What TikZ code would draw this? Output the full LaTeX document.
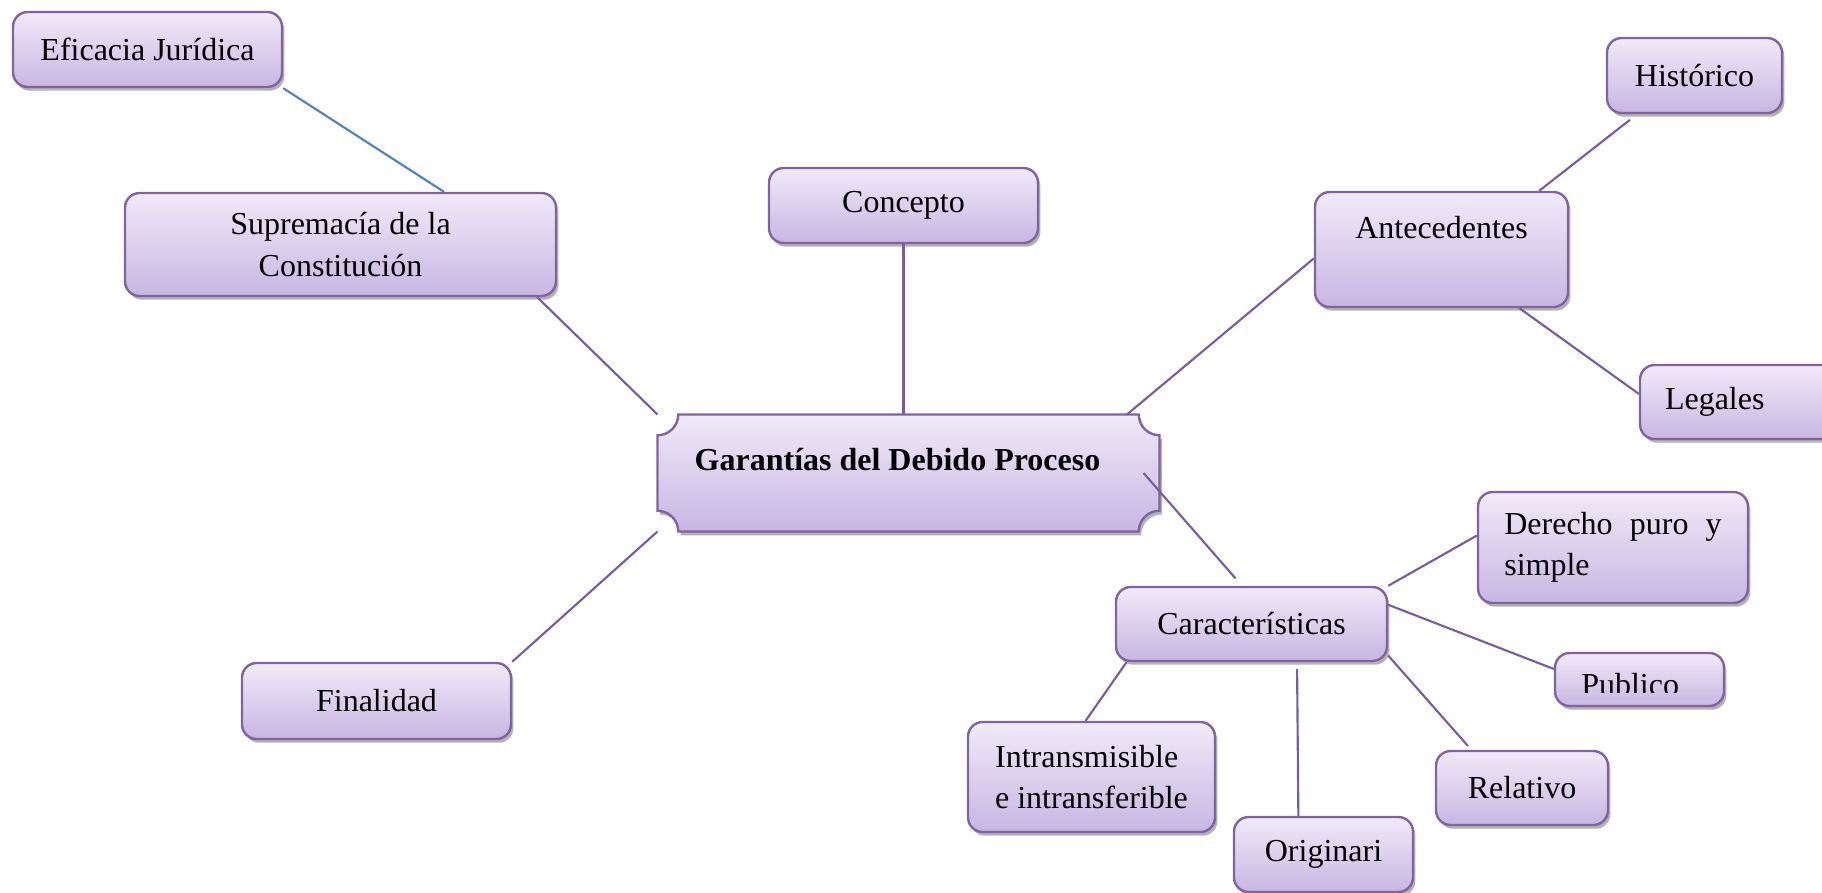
\documentclass[tikz,border=0pt]{standalone}
\usepackage{fontspec}
\setmainfont{Liberation Serif}
\usetikzlibrary{shadows,backgrounds}

\definecolor{boxtop}{RGB}{240,234,248}
\definecolor{boxbot}{RGB}{200,182,226}
\definecolor{boxline}{RGB}{128,100,162}
\definecolor{linkpurple}{RGB}{120,92,160}
\definecolor{linkblue}{RGB}{79,129,189}

\begin{document}
\begin{tikzpicture}[x=0.375pt,y=0.375pt,
  boxsize/.style 2 args={minimum width=#1*0.375pt,minimum height=#2*0.375pt},
  boxfill/.style={top color=boxtop,bottom color=boxbot,draw=boxline,line width=0.9pt,
    drop shadow={shadow xshift=0.9pt,shadow yshift=-1.4pt,fill=black!55,opacity=0.55}},
  box/.style={boxfill,rounded corners=5.5pt,inner sep=0pt,font=\fontsize{12}{15.5}\selectfont},
  link/.style={draw=linkpurple,line width=0.8pt}]
\useasboundingbox (0,0) rectangle (1822,-893);

\node (eff) at (147.5,-49.5)[box,boxsize={269}{75}]{Eficacia Jurídica};
\node (sup) at (340.5,-244.5)[box,boxsize={431}{103},align=center]{Supremacía de la\\Constitución};
\node (con) at (903.5,-205.5)[box,boxsize={269}{75}]{Concepto};
\node (ant) at (1441.5,-249.5)[box,boxsize={253}{115},text height=8.5pt,text depth=17pt]{Antecedentes};
\node (his) at (1694.5,-75.5)[box,boxsize={175}{75}]{Histórico};
\node (leg) at (1755,-402)[box,boxsize={230}{74},text width=67.5pt,align=left]{Legales};

% central box with scooped corners
\node (main) at (908.5,-473)[inner sep=0pt,boxsize={501}{116},font=\fontsize{12}{15.5}\selectfont\bfseries,
  text height=8.5pt,text depth=10.3pt]{\hspace*{-8.25pt}Garantías del Debido Proceso};
\begin{scope}[on background layer]
\path[boxfill] ([xshift=7.8pt]main.north west) -- ([xshift=-7.8pt]main.north east)
  arc[start angle=180,end angle=270,radius=7.8pt] -- ([yshift=7.8pt]main.south east)
  arc[start angle=90,end angle=180,radius=7.8pt] -- ([xshift=7.8pt]main.south west)
  arc[start angle=0,end angle=90,radius=7.8pt] -- ([yshift=-7.8pt]main.north west)
  arc[start angle=-90,end angle=0,radius=7.8pt] -- cycle;
\end{scope}

\node (car) at (1251.5,-624)[box,boxsize={271}{74}]{Características};
\node (der) at (1613,-547.5)[box,boxsize={270}{111},text width=81.5pt,align=justify]{Derecho puro y simple};
\node (pub) at (1639.5,-679.5)[box,boxsize={169}{53},
  path picture={\clip ([yshift=4.9pt]path picture bounding box.south west) rectangle (path picture bounding box.north east);
    \node (pubtext) at ([xshift=9.4pt,yshift=3.75pt]path picture bounding box.south west)
      [anchor=base west,inner sep=0pt,minimum width=0pt,minimum height=0pt,font=\fontsize{12}{15.5}\selectfont]{Publico};}]{};
\node (rel) at (1522,-788)[box,boxsize={172}{74}]{Relativo};
\node (ori) at (1323.5,-854.5)[box,boxsize={179}{75}]{Originari};
\node (int) at (1091.5,-777)[box,boxsize={247}{110},align=left]{Intransmisible\\e intransferible};
\node (fin) at (376.5,-701)[box,boxsize={269}{76}]{Finalidad};

\draw[link,draw=linkblue] (eff.south east) -- (sup.27);
\draw[link] (sup.-15.6) -- (main.north west);
\draw[link] (con.south) -- (con.south |- main.north);
\draw[link] (ant.184) -- (main.15.4);
\draw[link,shorten <=3.4pt] (his.214) -- (ant.31);
\draw[link] (ant.-37) -- (leg.176.5);
\draw[link,shorten >=3.7pt] ([xshift=-6pt]main.east) -- (car.104);
\draw[link] (fin.north east) -- (main.south west);
\draw[link] (car.north east) -- (der.175);
\draw[link] (car.8) -- (pub.173);
\draw[link,shorten >=1.9pt] (car.-13) -- (rel.143);
\draw[link,shorten <=2.6pt] (car.-40) -- (ori.123);
\draw[link] (car.197) -- (int.96.5);

\end{tikzpicture}
\end{document}
